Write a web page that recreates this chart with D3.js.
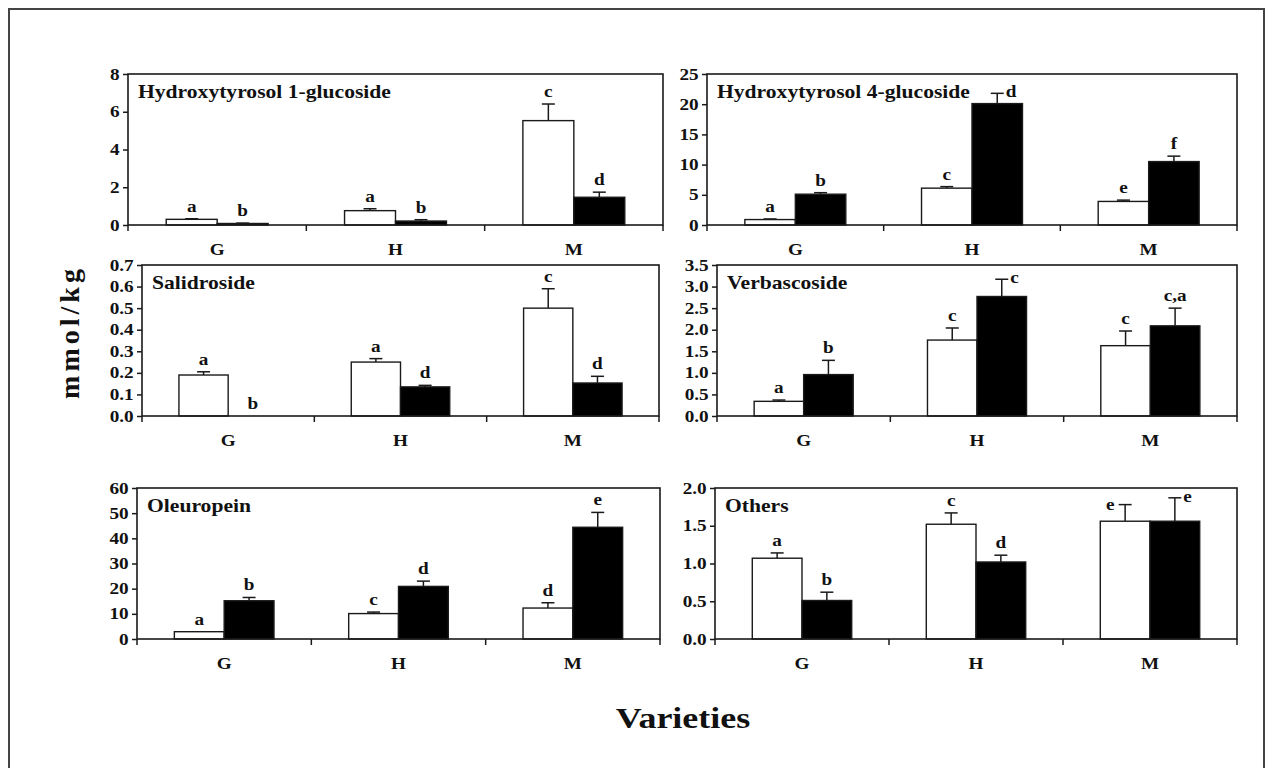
<!DOCTYPE html>
<html>
<head>
<meta charset="utf-8">
<script src="https://cdn.jsdelivr.net/npm/d3@7"></script>
<style>
  body { margin: 0; background: #fff; }
  text { font-family: "Liberation Serif", "Times New Roman", serif; font-weight: bold; fill: #111; }
</style>
</head>
<body>
<div id="chart"></div>
<script>
// values, one row per compound, columns G, H, M
const categories = ["G", "H", "M"];
const series = ["open", "filled"];
const titles = ["Hydroxytyrosol 1-glucoside", "Hydroxytyrosol 4-glucoside", "Salidroside",
                "Verbascoside", "Oleuropein", "Others"];

const openMean = [
    [0.30, 0.76, 5.53],
    [0.9, 6.1, 3.9],
    [0.19, 0.25, 0.50],
    [0.34, 1.76, 1.63],
    [2.9, 10.1, 12.3],
    [1.07, 1.52, 1.56]
];
const openErr = [
    [0.03, 0.10, 0.88],
    [0.1, 0.25, 0.22],
    [0.015, 0.016, 0.09],
    [0.03, 0.28, 0.34],
    [0, 0.6, 2.1],
    [0.07, 0.15, 0.22]
];
const filledMean = [
    [0.08, 0.21, 1.47],
    [5.1, 20.1, 10.5],
    [0, 0.135, 0.153],
    [0.96, 2.77, 2.09],
    [15.2, 20.9, 44.4],
    [0.51, 1.02, 1.56]
];
const filledErr = [
    [0.02, 0.07, 0.27],
    [0.25, 1.7, 0.9],
    [0, 0.007, 0.031],
    [0.33, 0.40, 0.41],
    [1.3, 2.1, 5.9],
    [0.11, 0.09, 0.31]
];
const openLetters = [
    ["a", "a", "c"], ["a", "c", "e"], ["a", "a", "c"],
    ["a", "c", "c"], ["a", "c", "d"], ["a", "c", "e"]
];
const filledLetters = [
    ["b", "b", "d"], ["b", "d", "f"], ["b", "d", "d"],
    ["b", "c", "c,a"], ["b", "d", "e"], ["b", "d", "e"]
];
// where the letter sits relative to the error cap
const openLetterSide = [
    ["above", "above", "above"], ["above", "above", "above"], ["above", "above", "above"],
    ["above", "above", "above"], ["above", "above", "above"], ["above", "above", "left"]
];
const filledLetterSide = [
    ["above", "above", "above"], ["above", "right", "above"], ["above", "above", "above"],
    ["above", "right", "above"], ["above", "above", "above"], ["above", "above", "right"]
];
const yTicks = [
    [0, 2, 4, 6, 8],
    [0, 5, 10, 15, 20, 25],
    [0, 0.1, 0.2, 0.3, 0.4, 0.5, 0.6, 0.7],
    [0, 0.5, 1.0, 1.5, 2.0, 2.5, 3.0, 3.5],
    [0, 10, 20, 30, 40, 50, 60],
    [0, 0.5, 1.0, 1.5, 2.0]
];
const yFormats = ["d", "d", ".1f", ".1f", "d", ".1f"];

// panel boxes in page pixels
const boxes = [
    { left: 128, right: 663, top: 74, bottom: 225 },
    { left: 707, right: 1237, top: 74, bottom: 225 },
    { left: 142, right: 659, top: 265, bottom: 416 },
    { left: 717, right: 1237, top: 265, bottom: 416 },
    { left: 137, right: 660, top: 488, bottom: 639 },
    { left: 715, right: 1237, top: 488, bottom: 639 }
];

const SX = 1.2;   // the original lettering is a little wide
const ink = "#1a1a1a";

const svg = d3.select("#chart").append("svg")
    .attr("width", 1272)
    .attr("height", 768);

svg.append("rect")
    .attr("width", 1272).attr("height", 768)
    .attr("fill", "#fff");

// outer frame, runs off the bottom of the picture
svg.append("rect")
    .attr("x", 9).attr("y", 9)
    .attr("width", 1255).attr("height", 800)
    .attr("fill", "none")
    .attr("stroke", "#444")
    .attr("stroke-width", 2);

function drawPanel(i) {
    const b = boxes[i];
    const w = b.right - b.left, h = b.bottom - b.top;
    const g = svg.append("g").attr("transform", "translate(" + b.left + "," + b.top + ")");

    const x = d3.scaleBand().domain(categories).range([0, w]);
    const xs = d3.scaleBand().domain(series).range([0, x.bandwidth()])
        .paddingInner(0).paddingOuter(0.75);
    const y = d3.scaleLinear().domain([0, d3.max(yTicks[i])]).range([h, 0]);

    const rows = [];
    categories.forEach((c, j) => {
        rows.push({ cat: c, s: "open", v: openMean[i][j], e: openErr[i][j],
                    lab: openLetters[i][j], side: openLetterSide[i][j] });
        rows.push({ cat: c, s: "filled", v: filledMean[i][j], e: filledErr[i][j],
                    lab: filledLetters[i][j], side: filledLetterSide[i][j] });
    });

    // error bars (upper half only)
    const cap = 6.5;
    rows.filter(d => d.e > 0).forEach(d => {
        const cx = x(d.cat) + xs(d.s) + xs.bandwidth() / 2;
        g.append("line")
            .attr("x1", cx).attr("x2", cx)
            .attr("y1", y(d.v)).attr("y2", y(d.v + d.e))
            .attr("stroke", ink).attr("stroke-width", 1.5);
        g.append("line")
            .attr("x1", cx - cap).attr("x2", cx + cap)
            .attr("y1", y(d.v + d.e)).attr("y2", y(d.v + d.e))
            .attr("stroke", ink).attr("stroke-width", 1.5);
    });

    g.selectAll("rect.bar")
        .data(rows.filter(d => d.v > 0))
        .join("rect")
        .attr("class", "bar")
        .attr("x", d => x(d.cat) + xs(d.s))
        .attr("width", xs.bandwidth())
        .attr("y", d => y(d.v))
        .attr("height", d => h - y(d.v))
        .attr("fill", d => d.s === "open" ? "#fff" : "#000")
        .attr("stroke", ink)
        .attr("stroke-width", 1.4);

    // significance letters
    rows.forEach(d => {
        const cx = x(d.cat) + xs(d.s) + xs.bandwidth() / 2;
        const top = y(d.v + d.e);
        let tx = cx, ty = top - 7, anchor = "middle";
        if (d.side === "right") { tx = cx + cap + 2; ty = top + 4; anchor = "start"; }
        if (d.side === "left") { tx = cx - cap - 4; ty = top + 5; anchor = "end"; }
        g.append("text")
            .attr("transform", "translate(" + tx + "," + ty + ") scale(" + SX + ",1)")
            .attr("text-anchor", anchor)
            .attr("font-size", 16)
            .text(d.lab);
    });

    // frame
    g.append("rect")
        .attr("width", w).attr("height", h)
        .attr("fill", "none")
        .attr("stroke", ink)
        .attr("stroke-width", 1.6);

    // y axis
    const yAxis = g.append("g")
        .call(d3.axisLeft(y).tickValues(yTicks[i]).tickFormat(d3.format(yFormats[i]))
            .tickSize(5).tickPadding(2));
    yAxis.select(".domain").remove();
    yAxis.selectAll("line").attr("stroke", ink).attr("stroke-width", 1.5);
    yAxis.selectAll("text")
        .attr("font-size", 16)
        .attr("font-family", null)
        .attr("fill", "#111")
        .attr("transform", "scale(" + SX + ",1)");

    // x axis: labels at the middle, ticks between varieties
    const xAxis = g.append("g")
        .attr("transform", "translate(0," + h + ")")
        .call(d3.axisBottom(x).tickSize(0).tickPadding(18.5));
    xAxis.select(".domain").remove();
    xAxis.selectAll("text")
        .attr("font-size", 16)
        .attr("font-family", null)
        .attr("fill", "#111")
        .attr("transform", "scale(" + SX + ",1)");
    const edges = categories.map(c => x(c)).concat([w]);
    g.selectAll("line.xtick")
        .data(edges)
        .join("line")
        .attr("class", "xtick")
        .attr("x1", d => d).attr("x2", d => d)
        .attr("y1", h).attr("y2", h + 6)
        .attr("stroke", ink).attr("stroke-width", 1.5);

    g.append("text")
        .attr("transform", "translate(10,24) scale(" + SX + ",1)")
        .attr("font-size", 18)
        .text(titles[i]);
}

boxes.forEach((b, i) => drawPanel(i));

svg.append("text")
    .attr("transform", "translate(79,332) rotate(-90)")
    .attr("text-anchor", "middle")
    .attr("font-size", 28)
    .attr("letter-spacing", 4)
    .text("mmol/kg");

svg.append("text")
    .attr("transform", "translate(683,728) scale(" + SX + ",1)")
    .attr("text-anchor", "middle")
    .attr("font-size", 30)
    .text("Varieties");
</script>
</body>
</html>
